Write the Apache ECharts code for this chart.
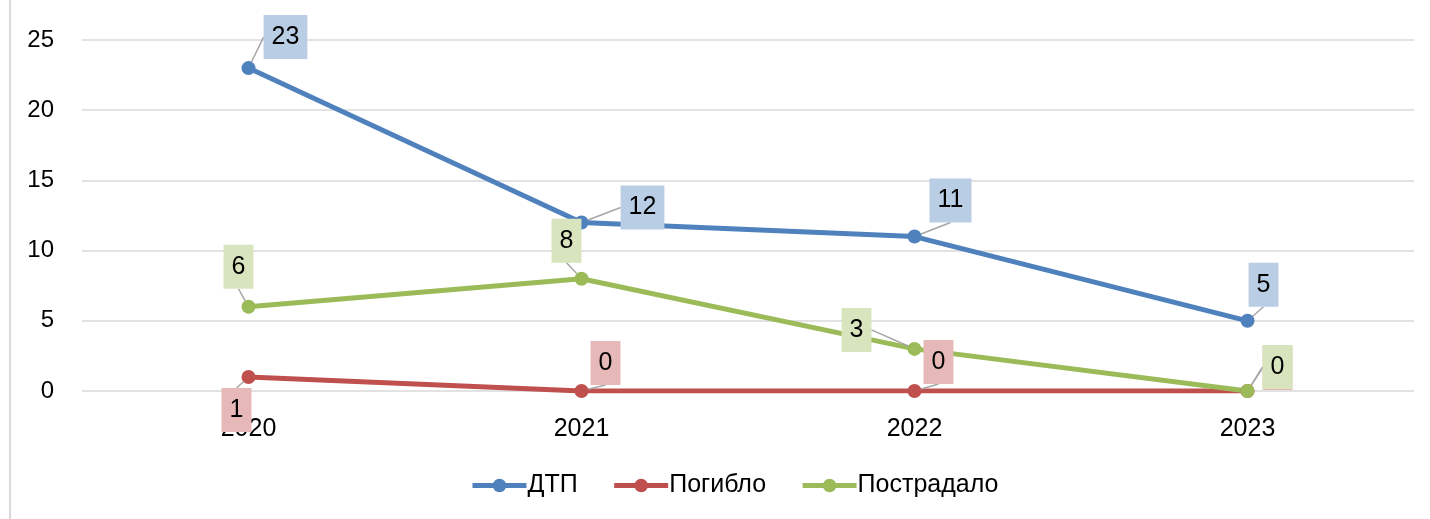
<!DOCTYPE html>
<html>
<head>
<meta charset="utf-8">
<script src="https://cdn.jsdelivr.net/npm/echarts@6/dist/echarts.min.js"></script>
<style>
html,body{margin:0;padding:0;background:#fff;}
#main{width:1430px;height:519px;}
</style>
</head>
<body>
<div id="main"></div>
<script>
// данные
var years      = ['2020', '2021', '2022', '2023'];
var dtp        = [23, 12, 11, 5];
var pogiblo    = [1, 0, 0, 0];
var postradalo = [6, 8, 3, 0];
var yTicks     = [0, 5, 10, 15, 20, 25];

// смещения подписей от точки (dx, dy)
var labelShift = [
	[[37,-31],[61,-15],[36,-36],[16,-36]],
	[[-12,33],[24,-28],[24,-29],[30,-23]],
	[[-10,-40],[-15,-38],[-58,-19],[30,-24]]
];

var FONT = '"Liberation Sans", "Noto Sans", sans-serif';

function makeSeries(name, data, color, bg){
	return {
		name: name,
		type: 'line',
		data: data,
		symbol: 'circle',
		symbolSize: 14,
		itemStyle: {color: color},
		lineStyle: {color: color, width: 5},
		label: {
			show: true,
			position: 'inside',
			color: '#000',
			fontSize: 25,
			lineHeight: 30,
			fontFamily: FONT,
			backgroundColor: bg,
			padding: [7, 8, 7, 8]
		},
		labelLine: {
			show: true,
			lineStyle: {color: '#a6a6a6', width: 1.5}
		}
	};
}

var myChart = echarts.init(document.getElementById('main'));
var option = {
	animation: false,
	textStyle: {fontFamily: FONT},
	graphic: [{
		type: 'rect',
		shape: {x: 9, y: 0, width: 2, height: 519},
		style: {fill: '#d9d9d9'}
	}],
	grid: {left: 82, right: 16, top: 40, bottom: 128},
	legend: {
		bottom: 16,
		left: 465,
		itemWidth: 54,
		itemHeight: 17,
		itemGap: 34,
		lineStyle: {width: 5},
		textStyle: {fontSize: 25, color: '#000', fontFamily: FONT, padding: [0, 0, 0, -4]},
		data: ['ДТП', 'Погибло', 'Пострадало']
	},
	xAxis: {
		type: 'category',
		data: years,
		boundaryGap: true,
		axisLine: {show: false},
		axisTick: {show: false},
		axisLabel: {fontSize: 25, color: '#000', margin: 26, fontFamily: FONT}
	},
	yAxis: {
		type: 'value',
		min: yTicks[0],
		max: yTicks[yTicks.length - 1],
		interval: 5,
		axisLine: {show: false},
		axisTick: {show: false},
		axisLabel: {fontSize: 24, color: '#000', margin: 28, fontFamily: FONT},
		splitLine: {lineStyle: {color: '#d9d9d9', width: 1.5}}
	},
	labelLayout: function(params){
		var s = labelShift[params.seriesIndex][params.dataIndex];
		return {dx: s[0], dy: s[1]};
	},
	series: [
		makeSeries('ДТП', dtp, '#4f81bd', '#b9cde5'),
		makeSeries('Погибло', pogiblo, '#c0504d', '#e6b9b8'),
		makeSeries('Пострадало', postradalo, '#9bbb59', '#d7e4bd')
	]
};
myChart.setOption(option);
</script>
</body>
</html>
